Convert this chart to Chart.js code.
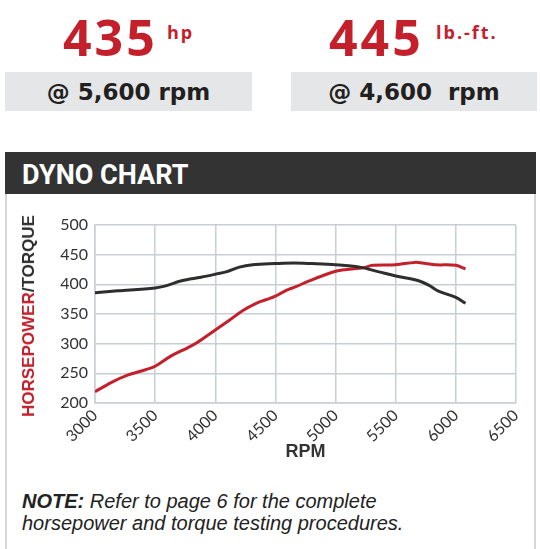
<!DOCTYPE html>
<html>
<head>
<meta charset="utf-8">
<script src="https://cdn.jsdelivr.net/npm/chart.js@4"></script>
<style>
  html, body { margin:0; padding:0; background:#fff; width:540px; height:549px; overflow:hidden; position:relative; }
  .abs { position:absolute; white-space:nowrap; }
  .big { font-family:"Open Sans", sans-serif; font-weight:700; font-size:50px; line-height:50px; color:#c4202b; letter-spacing:3px; }
  .unit { font-family:"Open Sans", sans-serif; font-weight:700; font-size:18px; line-height:18px; color:#c4202b; letter-spacing:2px; }
  .graybox { background:#e5e6e8; height:39px; top:72px; display:flex; align-items:center; justify-content:center;
             font-family:"DejaVu Sans", sans-serif; font-weight:700; font-size:23px; color:#231f20; }
  .bar { left:5px; top:152px; width:531px; height:42px; background:#333333; }
  .bar span { position:absolute; left:17px; top:7px; font-family:Roboto, sans-serif; font-weight:700; font-size:27px; line-height:32px; color:#fff; }
  .frame { left:5px; top:194px; width:527px; height:370px; border:2px solid #d6d6d6; border-top:none; }
  .ytitle { left:29px; top:316px; transform:translate(-50%,-50%) rotate(-90deg); font-family:"Liberation Sans", Arial, sans-serif; font-weight:700; font-size:17px; color:#2e2e2e; }
  .note { left:22px; top:490px; font-family:"Liberation Sans", Arial, sans-serif; font-style:italic; font-size:20px; line-height:22.4px; color:#222; }
  #wrap { position:absolute; left:0; top:200px; width:540px; height:270px; }
</style>
</head>
<body>
<div class="abs big" style="left:63px; top:12px;">435</div>
<div class="abs unit" style="left:167px; top:23px;">hp</div>
<div class="abs big" style="left:329px; top:12px;">445</div>
<div class="abs unit" style="left:436px; top:23px;">lb.-ft.</div>
<div class="abs graybox" style="left:5px; width:247px;">@ 5,600 rpm</div>
<div class="abs graybox" style="left:291px; width:246px;">@&nbsp;4,600&nbsp;&nbsp;rpm</div>
<div class="abs bar"><span>DYNO CHART</span></div>
<div class="abs frame"></div>
<div id="wrap"><canvas id="c"></canvas></div>
<div class="abs ytitle"><span style="color:#c4202b">HORSEPOWER</span>/TORQUE</div>
<div class="abs note"><b>NOTE:</b> Refer to page 6 for the complete<br>horsepower and torque testing procedures.</div>
<script>
const hpRpm = [3000,3130,3270,3420,3500,3630,3770,3850,4000,4120,4230,4340,4420,4500,4590,4670,4770,5000,5090,5230,5310,5500,5660,5750,5830,6000,6080];
const hpValues = [219,234,247,256,262,279,293,302,323,340,356,368,374,380,390,396,405,422,425,428,432,433,437,435,433,432,426];
const tqRpm = [3000,3190,3500,3580,3720,3880,4000,4090,4200,4310,4500,4650,4800,5000,5200,5360,5500,5690,5780,5850,6000,6080];
const tqValues = [386,389,394,397,406,412,417,421,429,433,435,436,435,433,429,421,414,406,398,389,378,368];
const xTicks = [3000,3500,4000,4500,5000,5500,6000,6500];
const yTicks = [200,250,300,350,400,450,500];

const toPts = (xs, ys) => xs.map((x, i) => ({x, y: ys[i]}));
const gridColor = '#c8cfd6';
const tickFont = {family: 'Lato, sans-serif', size: 16};

new Chart(document.getElementById('c'), {
  type: 'line',
  data: {
    datasets: [
      { label: 'Torque', data: toPts(tqRpm, tqValues), borderColor: '#2e2e2e', borderWidth: 3, pointRadius: 0, tension: 0.35, fill: false },
      { label: 'Horsepower', data: toPts(hpRpm, hpValues), borderColor: '#c4202b', borderWidth: 3, pointRadius: 0, tension: 0.35, fill: false }
    ]
  },
  options: {
    responsive: true,
    maintainAspectRatio: false,
    animation: false,
    layout: { padding: { left: 40, right: 24, top: 25, bottom: 0 } },
    plugins: { legend: { display: false }, tooltip: { enabled: false } },
    scales: {
      x: {
        type: 'linear',
        min: xTicks[0], max: xTicks[xTicks.length - 1],
        afterBuildTicks: (s) => { s.ticks = xTicks.map(v => ({value: v})); },
        afterFit: (s) => { s.height = 67; },
        ticks: { color: '#333', font: tickFont, minRotation: 45, maxRotation: 45, padding: 3, autoSkip: false, callback: (v) => String(v) },
        grid: { color: gridColor, lineWidth: 1.5, drawTicks: false },
        border: { color: gridColor, width: 1.5 },
        title: { display: true, text: 'RPM', color: '#333', font: {family: '"Liberation Sans", Arial, sans-serif', weight: 'bold', size: 18}, padding: {top: 0, bottom: 7} }
      },
      y: {
        min: yTicks[0], max: yTicks[yTicks.length - 1],
        afterBuildTicks: (s) => { s.ticks = yTicks.map(v => ({value: v})); },
        afterFit: (s) => { s.width = 55; },
        ticks: { color: '#333', font: tickFont, padding: 7, callback: (v) => String(v) },
        grid: { color: gridColor, lineWidth: 1.5, drawTicks: false },
        border: { color: gridColor, width: 1.5 }
      }
    }
  }
});
</script>
</body>
</html>
